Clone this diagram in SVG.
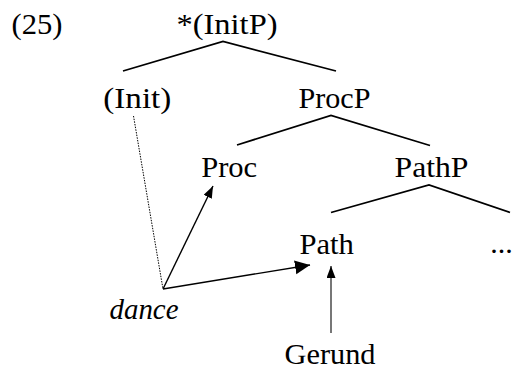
<svg xmlns="http://www.w3.org/2000/svg" width="513" height="370" viewBox="0 0 513 370">
<style>
text{font-family:"Liberation Serif","Times New Roman",serif;font-size:30px;fill:#000;text-anchor:middle}
.it{font-style:italic}
.tree{stroke:#000;stroke-width:1.8;fill:none}
.arr{stroke:#000;stroke-width:1.4;fill:none}
.dot{stroke:#000;stroke-width:1;stroke-dasharray:1.5 1.2;fill:none}
</style>
<defs>
<marker id="ahL" markerUnits="userSpaceOnUse" markerWidth="16" markerHeight="16" refX="15" refY="7" orient="auto"><path d="M0,0 L15,7 L0,14 Z" fill="#000"/></marker>
<marker id="ahM" markerUnits="userSpaceOnUse" markerWidth="14" markerHeight="10" refX="12" refY="4.5" orient="auto"><path d="M0,0 L12,4.5 L0,9 Z" fill="#000"/></marker>
</defs>
<g id="label-25"><text x="37" y="33.5" textLength="51" lengthAdjust="spacingAndGlyphs">(25)</text></g>
<g id="node-initp"><text x="227" y="33.5" textLength="101" lengthAdjust="spacingAndGlyphs">*(InitP)</text></g>
<g id="node-init"><text x="137.3" y="107.5" textLength="68" lengthAdjust="spacingAndGlyphs">(Init)</text></g>
<g id="node-procp"><text x="334.5" y="107.5" textLength="72" lengthAdjust="spacingAndGlyphs">ProcP</text></g>
<g id="node-proc"><text x="229.2" y="176.7" textLength="56" lengthAdjust="spacingAndGlyphs">Proc</text></g>
<g id="node-pathp"><text x="431.5" y="176.7" textLength="74" lengthAdjust="spacingAndGlyphs">PathP</text></g>
<g id="node-path"><text x="326.7" y="254" textLength="54.5" lengthAdjust="spacingAndGlyphs">Path</text></g>
<g id="node-dots"><text x="501.5" y="253">...</text></g>
<g id="node-dance"><text class="it" x="144" y="319" textLength="69" lengthAdjust="spacingAndGlyphs">dance</text></g>
<g id="node-gerund"><text x="330" y="363.5" textLength="91" lengthAdjust="spacingAndGlyphs">Gerund</text></g>
<g id="connectors">
<polyline class="tree" points="123,71 223,41.5 336,71"/>
<polyline class="tree" points="237,145 331,115.5 430,145.5"/>
<polyline class="tree" points="331,212.5 429,185 510,212.5"/>
<line class="dot" x1="133.5" y1="116" x2="163" y2="289"/>
<line class="arr" x1="163" y1="289" x2="213" y2="186" marker-end="url(#ahM)"/>
<line class="arr" x1="163" y1="289" x2="310" y2="265" marker-end="url(#ahL)"/>
<line x1="331" y1="333" x2="331" y2="266" stroke="#555" stroke-width="1.6" marker-end="url(#ahM)"/>
</g>
</svg>
